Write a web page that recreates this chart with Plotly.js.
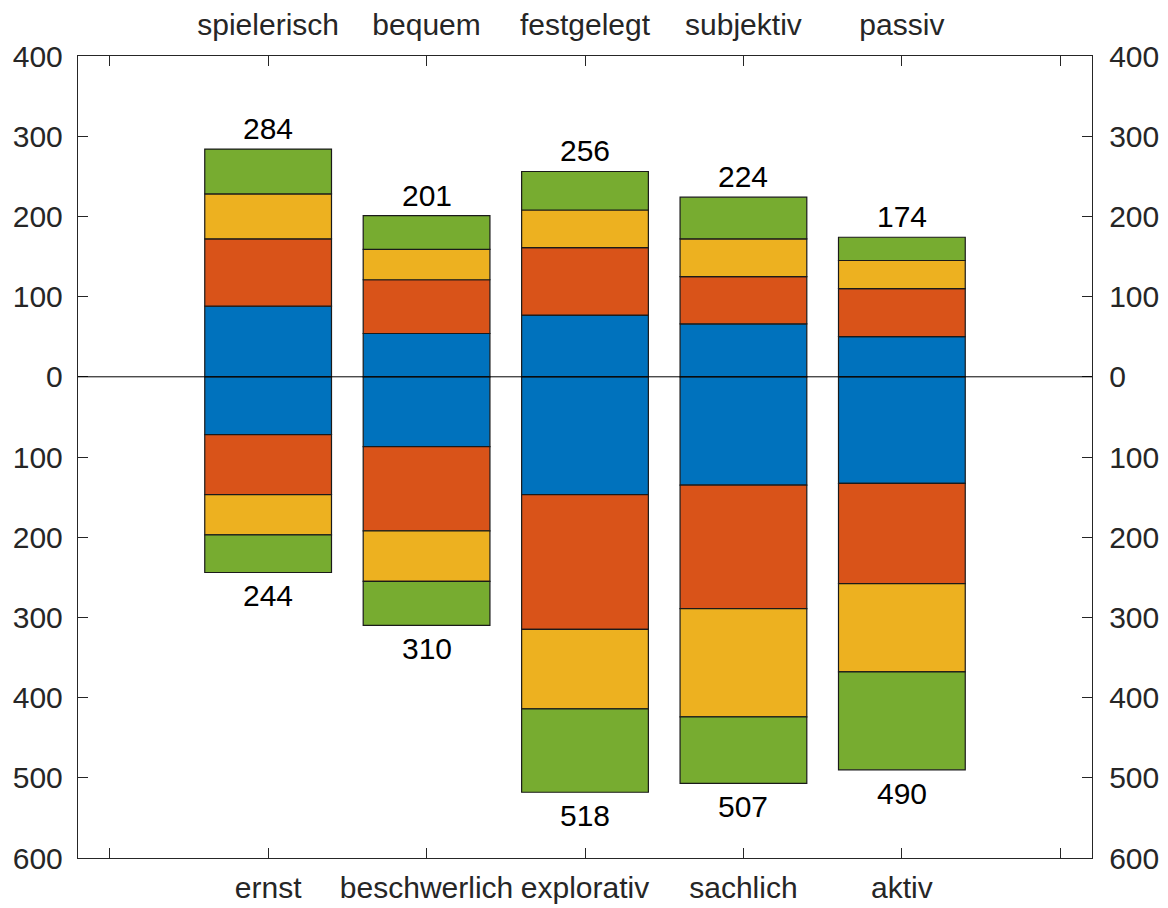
<!DOCTYPE html>
<html>
<head>
<meta charset="utf-8">
<script src="https://cdn.plot.ly/plotly-3.0.1.min.js"></script>
<style>html,body{margin:0;padding:0;background:#fff;}#chart{width:1168px;height:908px;}</style>
</head>
<body>
<div id="chart"></div>
<script>
const positions = [1, 2, 3, 4, 5];
const topLabels = ['spielerisch', 'bequem', 'festgelegt', 'subjektiv', 'passiv'];
const bottomLabels = ['ernst', 'beschwerlich', 'explorativ', 'sachlich', 'aktiv'];

const blueUp   = [88, 54, 77, 66, 50];
const orangeUp = [84, 67, 84, 59, 60];
const yellowUp = [56, 38, 47, 47, 35];
const greenUp  = [56, 42, 48, 52, 29];

const blueDown   = [72, 87, 147, 135, 133];
const orangeDown = [75, 105, 168, 154, 125];
const yellowDown = [50, 63, 99, 135, 110];
const greenDown  = [47, 55, 104, 83, 122];

const upTotals   = [284, 201, 256, 224, 174];
const downTotals = [244, 310, 518, 507, 490];

const yTickVals = [400, 300, 200, 100, 0, -100, -200, -300, -400, -500, -600];
const yTickText = ['400', '300', '200', '100', '0', '100', '200', '300', '400', '500', '600'];
const xTickVals = [0, 1, 2, 3, 4, 5, 6];

const colors = {blue: '#0072BD', orange: '#D95319', yellow: '#EDB120', green: '#77AC30'};
const FONT = 'Liberation Sans, Arial, sans-serif';
const FS = 30;
const axisColor = '#262626';

function barTrace(vals, color, sign) {
  return {
    type: 'bar', x: positions, y: vals.map(v => sign * v), width: 0.8,
    marker: {color: color, line: {color: '#1a1a1a', width: 1.2}},
    hoverinfo: 'skip', showlegend: false
  };
}

const traces = [
  barTrace(blueUp, colors.blue, 1), barTrace(blueDown, colors.blue, -1),
  barTrace(orangeUp, colors.orange, 1), barTrace(orangeDown, colors.orange, -1),
  barTrace(yellowUp, colors.yellow, 1), barTrace(yellowDown, colors.yellow, -1),
  barTrace(greenUp, colors.green, 1), barTrace(greenDown, colors.green, -1),
  // invisible companion trace so the top and right axes are drawn
  {type: 'scatter', mode: 'markers', x: positions, y: upTotals, xaxis: 'x2', yaxis: 'y2',
   marker: {opacity: 0}, hoverinfo: 'skip', showlegend: false}
];

const annotations = [];
positions.forEach((p, i) => {
  annotations.push({x: p, y: upTotals[i], xref: 'x', yref: 'y', text: String(upTotals[i]),
    showarrow: false, yanchor: 'bottom', xanchor: 'center', yshift: 2,
    font: {family: FONT, size: FS, color: '#000'}});
  annotations.push({x: p, y: -downTotals[i], xref: 'x', yref: 'y', text: String(downTotals[i]),
    showarrow: false, yanchor: 'top', xanchor: 'center', yshift: -5,
    font: {family: FONT, size: FS, color: '#000'}});
});

const commonX = {
  range: [-0.2, 6.2], tickmode: 'array', tickvals: xTickVals,
  ticks: 'inside', ticklen: 10, tickcolor: axisColor, tickwidth: 1,
  showline: true, linecolor: axisColor, linewidth: 1.2,
  showgrid: false, zeroline: false,
  tickfont: {family: FONT, size: FS, color: axisColor}
};
const commonY = {
  range: [-600, 400], tickmode: 'array', tickvals: yTickVals, ticktext: yTickText,
  ticks: 'inside', ticklen: 10, tickcolor: axisColor, tickwidth: 1,
  showline: true, linecolor: axisColor, linewidth: 1.2,
  showgrid: false, zeroline: false,
  tickfont: {family: FONT, size: FS, color: axisColor}
};

const layout = {
  width: 1168, height: 908,
  margin: {l: 78, r: 76, t: 56, b: 50},
  paper_bgcolor: '#fff', plot_bgcolor: '#fff',
  barmode: 'relative', bargap: 0,
  showlegend: false,
  xaxis: Object.assign({}, commonX, {ticktext: [''].concat(bottomLabels, ['']), side: 'bottom', anchor: 'y', ticklabelstandoff: 3}),
  xaxis2: Object.assign({}, commonX, {ticktext: [''].concat(topLabels, ['']), side: 'top', overlaying: 'x', anchor: 'y2', ticklabelstandoff: 8}),
  yaxis: Object.assign({}, commonY, {side: 'left', anchor: 'x', ticklabelstandoff: 8}),
  yaxis2: Object.assign({}, commonY, {side: 'right', overlaying: 'y', anchor: 'x2', ticklabelstandoff: 10}),
  annotations: annotations,
  shapes: [{
    type: 'line', xref: 'paper', x0: 0, x1: 1, yref: 'y', y0: 0, y1: 0,
    line: {color: '#000', width: 1}, layer: 'above'
  }]
};

Plotly.newPlot('chart', traces, layout, {staticPlot: true, displayModeBar: false});
</script>
</body>
</html>
